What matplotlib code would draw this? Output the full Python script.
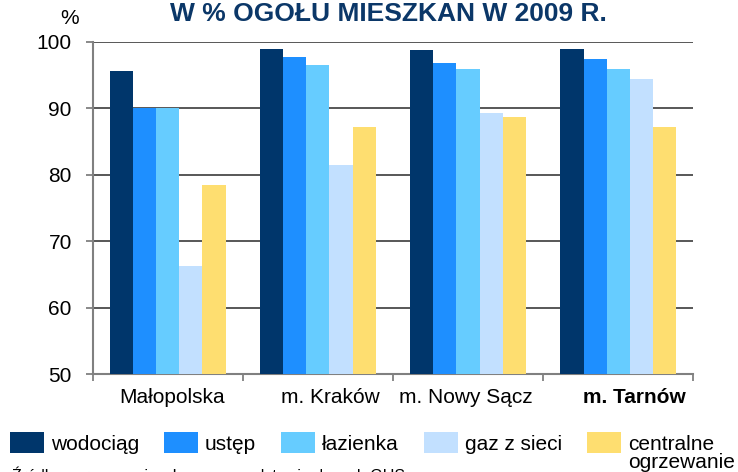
import numpy as np
import matplotlib.pyplot as plt
import matplotlib.transforms as mtransforms
from matplotlib.patches import Patch

plt.rcParams['font.family'] = ['Liberation Sans', 'DejaVu Sans']

regions = ['Małopolska', 'm. Kraków', 'm. Nowy Sącz', 'm. Tarnów']
series = ['wodociąg', 'ustęp', 'łazienka', 'gaz z sieci', 'centralne']
wodociag = [95.6, 98.9, 98.8, 98.9]
ustep = [90.0, 97.7, 96.8, 97.4]
lazienka = [90.0, 96.5, 95.9, 95.9]
gaz = [66.2, 81.4, 89.3, 94.4]
centralne = [78.4, 87.2, 88.6, 87.1]
yticks = [50, 60, 70, 80, 90, 100]

colors = ['#00366b', '#1e8fff', '#66ccff', '#c2e0ff', '#fede70']
title_color = '#0b3768'

fig = plt.figure(figsize=(7.38, 4.72), dpi=100)
ax = fig.add_axes([0.1256, 0.2076, 0.8138, 0.7041])

# bars, five per region, centred in each slot
x = np.arange(len(regions))
w = 0.154
values = [wodociag, ustep, lazienka, gaz, centralne]
for i, (vals, c) in enumerate(zip(values, colors)):
    ax.bar(x + (i - 2) * w, vals, w, color=c, zorder=3)

ax.set_ylim(50, 100)
ax.set_xlim(-0.5, len(regions) - 0.5)
ax.set_yticks(yticks)
ax.yaxis.grid(True, color='#4a4a4a', linewidth=1.3, zorder=0)
ax.tick_params(axis='y', labelsize=15, length=5, width=1.3, color='#808080', pad=10)

# region labels at the centre, tick marks at the slot boundaries
ax.set_xticks(x)
ax.set_xticklabels(regions, fontsize=15)
ax.get_xticklabels()[-1].set_fontweight('bold')
ax.tick_params(axis='x', which='major', length=0, pad=10)
ax.set_xticks(np.arange(len(regions) + 1) - 0.5, minor=True)
ax.tick_params(axis='x', which='minor', length=5, width=1.3, color='#808080')
# labels in the original sit a little off centre
for lab, dx in zip(ax.get_xticklabels(), [4, 12, -2, 16]):
    lab.set_transform(lab.get_transform() + mtransforms.ScaledTranslation(dx / 100, 0, fig.dpi_scale_trans))

for s in ['top', 'right']:
    ax.spines[s].set_visible(False)
for s in ['left', 'bottom']:
    ax.spines[s].set_color('#808080')
    ax.spines[s].set_linewidth(1.5)

fig.text(0.526, 1 - 21 / 472, 'W % OGOŁU MIESZKAN W 2009 R.', ha='center', va='baseline',
         fontsize=19, fontweight='bold', color=title_color)
fig.text(70 / 738, 1 - 18 / 472, '%', ha='center', va='center', fontsize=15)

handles = [Patch(facecolor=c, edgecolor='none') for c in colors]
leg = fig.legend(handles, series, loc='upper left', bbox_to_anchor=(10 / 738, 1 - 432 / 472),
                 ncol=5, frameon=False, fontsize=15, handlelength=1.62, handleheight=1.19,
                 handletextpad=0.33, columnspacing=1.22, borderpad=0, borderaxespad=0)

# second line of the last legend label, put under the first one
fig.canvas.draw()
bb = leg.get_texts()[-1].get_window_extent().transformed(fig.transFigure.inverted())
fig.text(bb.x0, bb.y0 + 0.002, 'ogrzewanie', ha='left', va='top', fontsize=15)

fig.text(12 / 738, 1 - 466 / 472, 'Źródło: opracowanie własne na podstawie danych GUS',
         ha='left', va='top', fontsize=11.5)

fig.savefig('out.png', dpi=100)
